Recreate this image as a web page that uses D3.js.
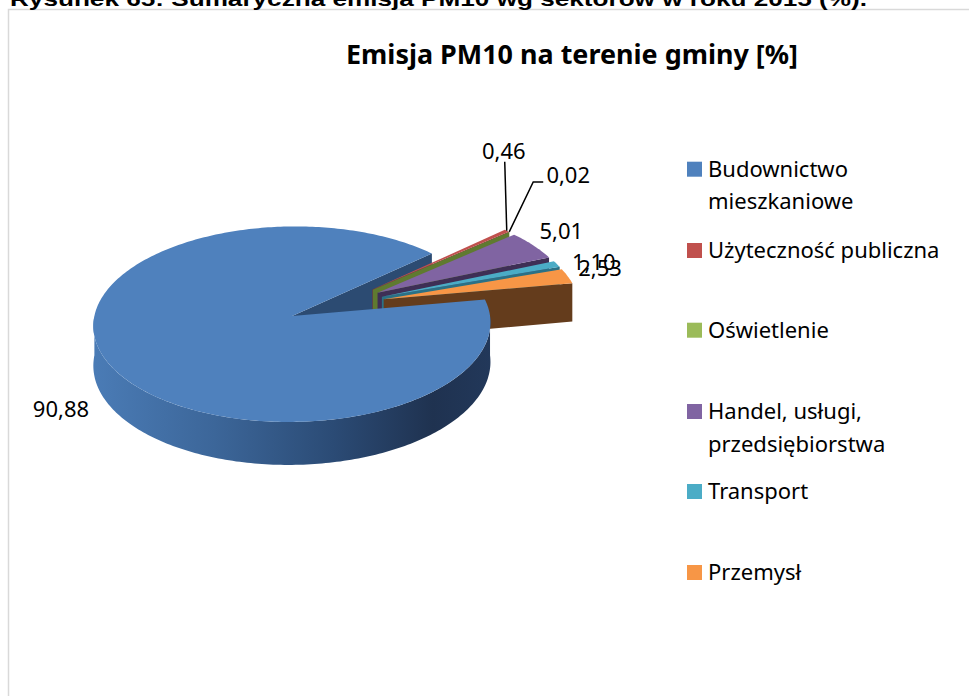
<!DOCTYPE html>
<html>
<head>
<meta charset="utf-8">
<script src="https://cdn.jsdelivr.net/npm/d3@7"></script>
<style>
  body { margin: 0; background: #fff; }
  svg { display: block; }
</style>
</head>
<body>
<svg width="969" height="696"></svg>
<script>
// data
var categories = ["Budownictwo mieszkaniowe", "Użyteczność publiczna", "Oświetlenie",
                  "Handel, usługi, przedsiębiorstwa", "Transport", "Przemysł"];
var values = [90.88, 0.46, 0.02, 5.01, 1.10, 2.53];
var valueLabels = ["90,88", "0,46", "0,02", "5,01", "1,10", "2,53"];
var legendLines = [["Budownictwo", "mieszkaniowe"], ["Użyteczność publiczna"], ["Oświetlenie"],
                   ["Handel, usługi,", "przedsiębiorstwa"], ["Transport"], ["Przemysł"]];

// colours (top / dark face)
var topColors = ["#4f81bd", "#c0504d", "#9bbb59", "#8064a2", "#4bacc6", "#f79646"];
var faceColors = ["#2c4b72", "#7e3431", "#5f7a30", "#3e2f55", "#2a7186", "#643c1c"];

var svg = d3.select("svg");
var font = "'Noto Sans', 'Open Sans', sans-serif";

// 3d pie settings
var cx = 336.5, cy = 305.3, rx = 196, ry = 95.3, persp = 0.083, depth = 39, explode = 0.25;
var deg = Math.PI / 180;

function project(u, v, h) {
  var k = 1 / (1 + persp * v);
  return [cx + rx * u * k, cy + (-ry * v + depth * h) * k];
}

var pie = d3.pie().sort(null).value(function (d) { return d; })
  .startAngle(80 * deg).endAngle(80 * deg + 2 * Math.PI);
var arcs = pie(values);

arcs.forEach(function (d) {
  d.mid = (d.startAngle + d.endAngle) / 2;
  d.ou = explode * Math.sin(d.mid);
  d.ov = explode * Math.cos(d.mid);
  d.pt = function (a, r, h) { return project(d.ou + r * Math.sin(a), d.ov + r * Math.cos(a), h); };
});

var line = d3.line();

function arcPts(d, a1, a2, h) {
  var n = Math.max(2, Math.ceil(Math.abs(a2 - a1) / (1 * deg)));
  return d3.range(n + 1).map(function (i) { return d.pt(a1 + (a2 - a1) * i / n, 1, h); });
}

// side gradient
var defs = svg.append("defs");
var grad = defs.append("linearGradient").attr("id", "sideGrad")
  .attr("gradientUnits", "userSpaceOnUse").attr("x1", 96).attr("x2", 492).attr("y1", 0).attr("y2", 0);
[[0, "#4a7bb5"], [0.3, "#3c6699"], [0.6, "#2b4b75"], [0.85, "#1f3250"], [1, "#22385a"]].forEach(function (s) {
  grad.append("stop").attr("offset", s[0]).attr("stop-color", s[1]);
});

// frame + caption
svg.append("rect").attr("x", 8.5).attr("y", 9.5).attr("width", 980).attr("height", 700)
  .attr("fill", "none").attr("stroke", "#d9d9d9").attr("stroke-width", 1.5);

svg.append("text").attr("x", 10).attr("y", 6)
  .attr("font-family", "'Liberation Sans', Arial, sans-serif").attr("font-weight", "bold")
  .attr("font-size", 21).attr("fill", "#000")
  .attr("textLength", 857).attr("lengthAdjust", "spacingAndGlyphs")
  .text("Rysunek 65: Sumaryczna emisja PM10 wg sektorów w roku 2015 (%).");

function fit(sel, w) {
  if (sel.node().getComputedTextLength() > w) sel.attr("textLength", w).attr("lengthAdjust", "spacingAndGlyphs");
}

var title = svg.append("text").attr("x", 572).attr("y", 64).attr("text-anchor", "middle")
  .attr("font-family", font).attr("font-weight", "bold").attr("font-size", 27).attr("fill", "#000")
  .text("Emisja PM10 na terenie gminy [%]");
fit(title, 452);

var g = svg.append("g");

// radial faces (back first, in slice order)
arcs.forEach(function (d, i) {
  [[d.startAngle, Math.sin(d.startAngle) < 0], [d.endAngle, Math.sin(d.endAngle) > 0]].forEach(function (f) {
    if (!f[1]) return;
    var pts = [d.pt(0, 0, 0), d.pt(f[0], 1, 0), d.pt(f[0], 1, 1), d.pt(0, 0, 1)];
    g.append("path").attr("d", line(pts) + "Z").attr("fill", faceColors[i]);
  });
});

// outer sides (front half only)
arcs.forEach(function (d, i) {
  [0, 1].forEach(function (k) {
    var a1 = Math.max(d.startAngle, (90 + 360 * k) * deg);
    var a2 = Math.min(d.endAngle, (270 + 360 * k) * deg);
    if (a2 <= a1) return;
    var pts = arcPts(d, a1, a2, 0).concat(arcPts(d, a2, a1, 1));
    g.append("path").attr("d", line(pts) + "Z")
      .attr("fill", i === 0 ? "url(#sideGrad)" : faceColors[i]);
  });
});

// tops, back to front
var order = d3.range(arcs.length).sort(function (a, b) { return Math.cos(arcs[b].mid) - Math.cos(arcs[a].mid); });
order.forEach(function (i) {
  var d = arcs[i];
  var pts = [d.pt(0, 0, 0)].concat(arcPts(d, d.startAngle, d.endAngle, 0));
  g.append("path").attr("d", line(pts) + "Z").attr("fill", topColors[i]);
});

// data labels (offset from the slice's outer mid point)
var labelOffsets = [[-45.5, 48], [-3, -80], [59, -57], [28, -14], [37, -2], [32.5, -8]];
var leaders = [null, [[0, 0], [-2, -69]], [[0, 0], [24, -50], [34, -50]], null, null, null];

arcs.forEach(function (d, i) {
  var a = d.pt(d.mid, 1, 0);
  if (leaders[i]) {
    g.append("path")
      .attr("d", line(leaders[i].map(function (p) { return [a[0] + p[0], a[1] + p[1]]; })))
      .attr("fill", "none").attr("stroke", "#000").attr("stroke-width", 1.5);
  }
  g.append("text").attr("x", a[0] + labelOffsets[i][0]).attr("y", a[1] + labelOffsets[i][1])
    .attr("dy", "0.36em").attr("text-anchor", "middle")
    .attr("font-family", font).attr("font-size", 22).attr("fill", "#000")
    .text(valueLabels[i]);
});

// legend
var legendBase = [176.7, 258, 337.7, 419, 499, 580];
var legend = svg.append("g");
categories.forEach(function (c, i) {
  legend.append("rect").attr("x", 687).attr("y", legendBase[i] - 15).attr("width", 15).attr("height", 15)
    .attr("fill", topColors[i]);
  var t = legend.append("text").attr("x", 708).attr("y", legendBase[i])
    .attr("font-family", font).attr("font-size", 22).attr("fill", "#000");
  legendLines[i].forEach(function (ln, j) {
    t.append("tspan").attr("x", 708).attr("dy", j === 0 ? 0 : 32.6).text(ln);
  });
});
</script>
</body>
</html>
